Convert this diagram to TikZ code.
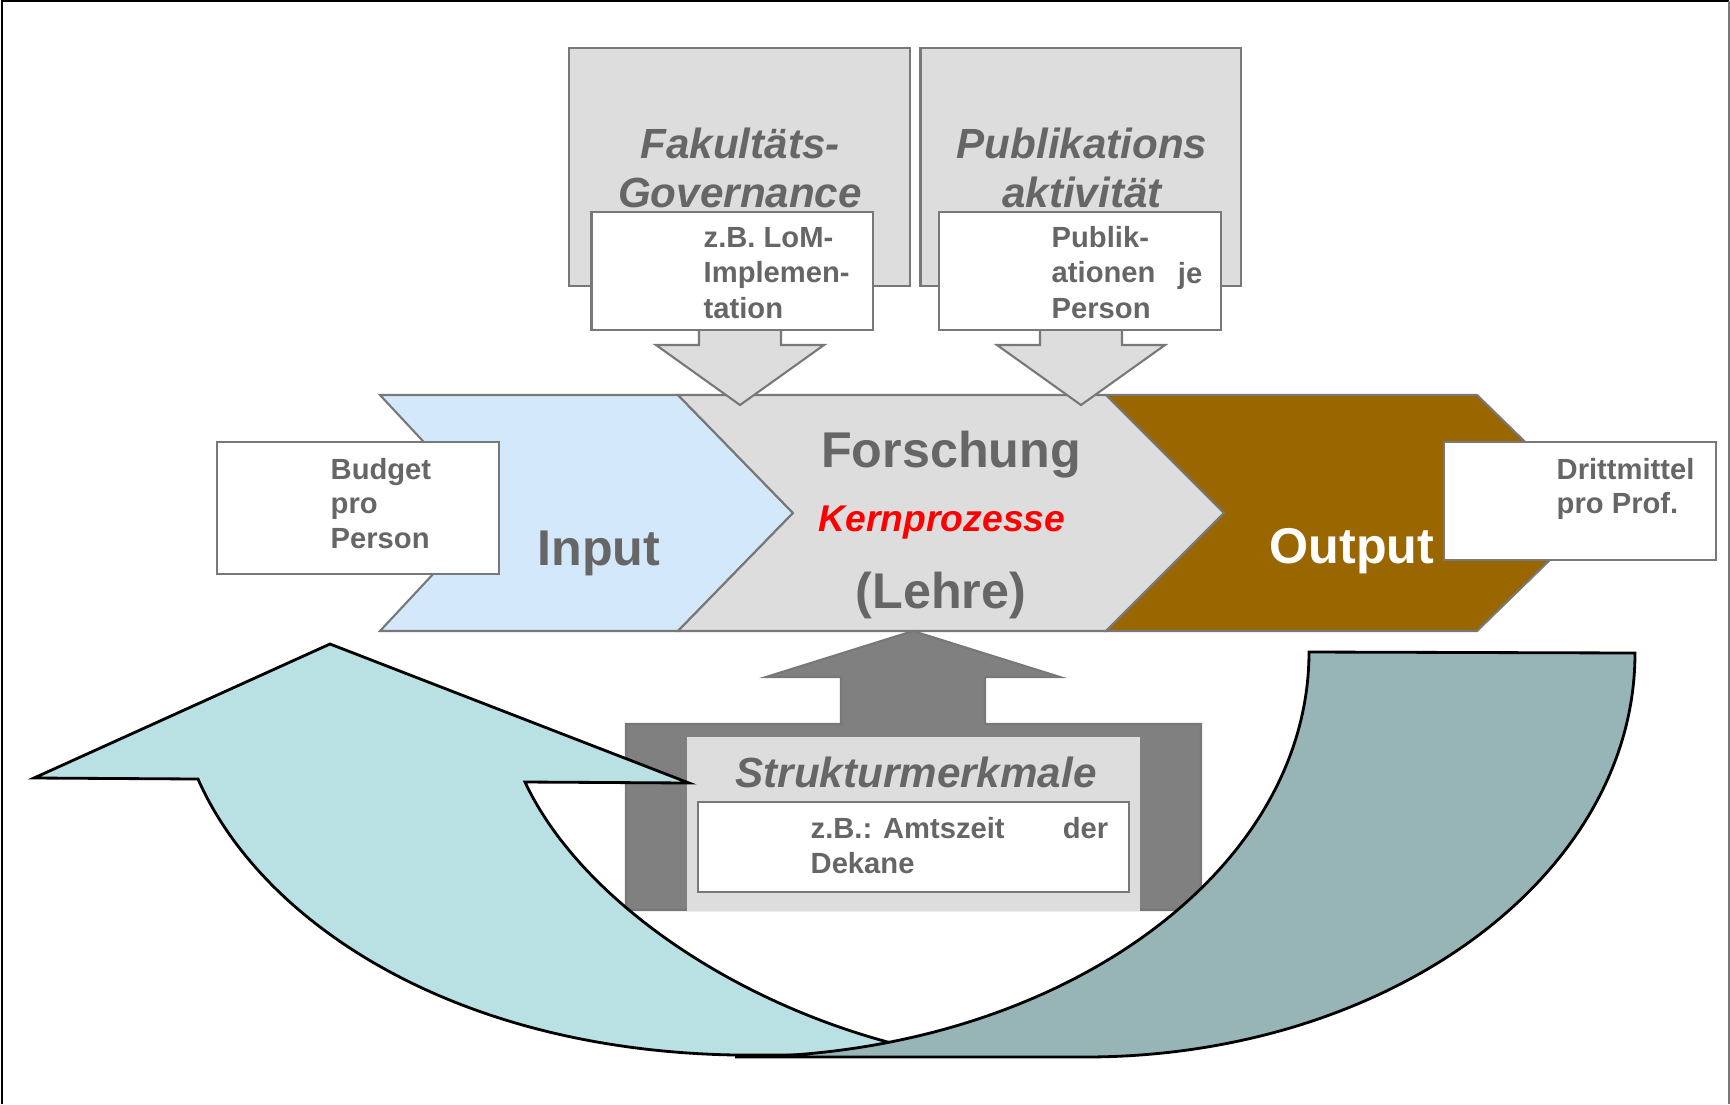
\documentclass[tikz,border=0pt]{standalone}
\usepackage{fontspec}
\setmainfont{Liberation Sans}
\usetikzlibrary{positioning}

\definecolor{txtgrey}{RGB}{102,102,102}
\definecolor{boxgrey}{RGB}{221,221,221}
\definecolor{edgegrey}{RGB}{120,120,120}
\definecolor{upgrey}{RGB}{128,128,128}
\definecolor{inputblue}{RGB}{211,232,251}
\definecolor{outbrown}{RGB}{153,102,0}
\definecolor{backcyan}{RGB}{185,224,227}
\definecolor{backteal}{RGB}{151,180,182}

\tikzset{
  greybox/.style={fill=boxgrey, draw=edgegrey, line width=0.6pt},
  notebox/.style={fill=white, draw=edgegrey, line width=0.6pt},
  chevron/.style={draw=edgegrey, line width=0.6pt},
  feedback/.style={draw=black, line width=0.8pt},
  smalltext/.style={font=\fontsize{8.3}{10}\selectfont\bfseries, text=txtgrey, inner sep=0pt},
  bigtext/.style={font=\fontsize{14.3}{17}\selectfont\bfseries, text=txtgrey, inner sep=0pt, anchor=base},
  titletext/.style={font=\fontsize{12}{14}\selectfont\bfseries\itshape, text=txtgrey, inner sep=0pt, anchor=base},
}

\begin{document}
\begin{tikzpicture}[x=0.1mm, y=-0.1mm]
    \useasboundingbox (0,0) rectangle (1730,1104);

    % frame
    \draw[line width=0.7pt] (2,1104) -- (2,1) -- (1729,1);
    \draw[line width=0.7pt, edgegrey] (1729,1) -- (1729,1104);

    % process chevrons
    \filldraw[chevron, fill=inputblue] (380,395) -- (678,395) -- (793,513) -- (678,631) -- (380,631) -- (490,513) -- cycle;
    \filldraw[chevron, fill=boxgrey] (678,395) -- (1106,395) -- (1224,513) -- (1106,631) -- (678,631) -- (793,513) -- cycle;
    \filldraw[chevron, fill=outbrown] (1106,395) -- (1477,395) -- (1598,513) -- (1477,631) -- (1106,631) -- (1224,513) -- cycle;

    \node[bigtext] (input) at (599,565) {Input};
    \node[bigtext] (forschung) at (951,467) {Forschung};
    \node[bigtext, font=\fontsize{10.6}{12}\selectfont\bfseries\itshape, text=red] (kern) at (942,531) {Kernprozesse};
    \node[bigtext] (lehre) at (941,608) {(Lehre)};
    \node[bigtext, text=white] (output) at (1352,563) {Output};

    % influences from above
    \filldraw[greybox] (569,48) rectangle (910,286);
    \filldraw[greybox] (920.5,48) rectangle (1241,286);
    \node[titletext] (fak) at (740,158) {Fakultäts-};
    \node[titletext] (gov) at (740,207) {Governance};
    \node[titletext] (publ) at (1082,158) {Publikations};
    \node[titletext] (aktiv) at (1082,207) {aktivität};

    \foreach \cx in {740,1081}
        \filldraw[greybox] ({\cx-41},325) -- ({\cx+41},325) -- ({\cx+41},345) -- ({\cx+84},345)
            -- (\cx,405) -- ({\cx-84},345) -- ({\cx-41},345) -- cycle;

    \filldraw[notebox] (591.5,212) rectangle (873,330);
    \foreach \txt [count=\i from 0] in {z.B. LoM-,Implemen-,tation}
        \node[smalltext, anchor=base west] (lom-\i) at (703,{247+35.5*\i}) {\txt};

    \filldraw[notebox] (939,212) rectangle (1221,330);
    \foreach \txt [count=\i from 0] in {Publik-,ationen,Person}
        \node[smalltext, anchor=base west] (pubpers-\i) at (1051,{247+35.5*\i}) {\txt};
    \node[smalltext, anchor=base east] (je) at (1203,283) {je};

    % indicators
    \filldraw[notebox] (217,442) rectangle (499,574);
    \foreach \txt [count=\i from 0] in {Budget,pro,Person}
        \node[smalltext, anchor=base west] (budget-\i) at (330,{479+34.7*\i}) {\txt};

    \filldraw[notebox] (1444,442) rectangle (1716,560);
    \foreach \txt [count=\i from 0] in {Drittmittel,pro Prof.}
        \node[smalltext, anchor=base west] (dritt-\i) at (1556,{479+34.7*\i}) {\txt};

    % structure from below
    \filldraw[fill=upgrey, draw=edgegrey, line width=0.6pt] (626,910) -- (626,724) -- (841,724) -- (841,677)
        -- (766,677) -- (913,631) -- (1060,677) -- (985,677) -- (985,724) -- (1201,724) -- (1201,910) -- cycle;
    \fill[boxgrey] (687,737) rectangle (1140,911);
    \node[titletext] (struktur) at (916,787) {Strukturmerkmale};
    \filldraw[notebox] (698,802) rectangle (1129,892);
    \node[smalltext, anchor=base west] (amtszeit) at (810,838) {z.B.: Amtszeit};
    \node[smalltext, anchor=base east] (der) at (1109,838) {der};
    \node[smalltext, anchor=base west] (dekane) at (810,873) {Dekane};

    % feedback loop
    \filldraw[feedback, fill=backcyan] (330,644) -- (689,783) -- (525,782)
        .. controls (580,900) and (740,1010) .. (920,1050) -- (920,1055) -- (735,1055)
        .. controls (450,1050) and (260,920) .. (198,779) -- (34,778) -- cycle;
    \filldraw[feedback, fill=backteal] (1309,652) -- (1635,653)
        arc[start angle=0, end angle=90, x radius=550, y radius=404] -- (735,1057)
        arc[start angle=90, end angle=0, x radius=574, y radius=405] -- cycle;
\end{tikzpicture}
\end{document}
